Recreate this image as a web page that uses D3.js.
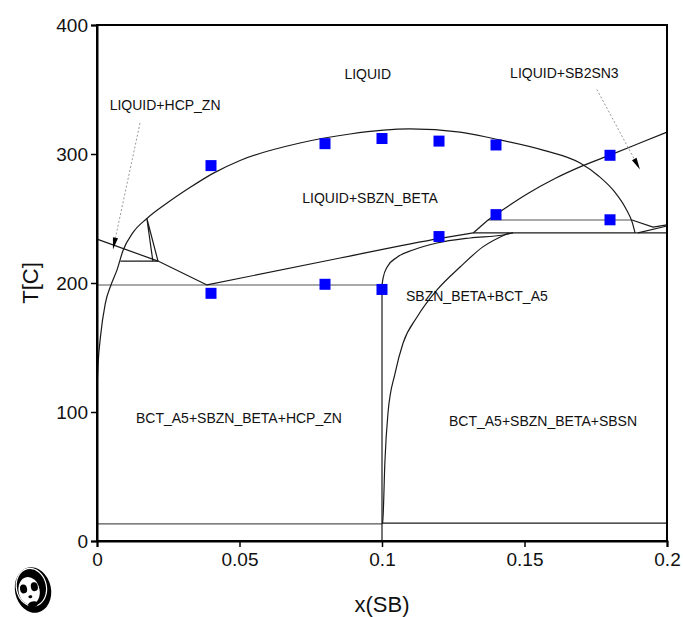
<!DOCTYPE html>
<html><head><meta charset="utf-8">
<script src="https://cdn.jsdelivr.net/npm/d3@7"></script>
<style>body{margin:0;background:#fff}svg{display:block}text{font-family:"Liberation Sans",Arial,sans-serif}</style>
</head><body>
<script>
// ---------- data ----------
const xTicks = [0, 0.05, 0.1, 0.15, 0.2];
const xTickLabels = ["0", "0.05", "0.1", "0.15", "0.2"];
const yTicks = [0, 100, 200, 300, 400];
const yTickLabels = ["0", "100", "200", "300", "400"];

// experimental points
const expX = [0.04, 0.08, 0.10, 0.12, 0.14, 0.18, 0.14, 0.18, 0.12, 0.04, 0.08, 0.10];
const expT = [291, 308, 312, 310, 307, 299, 253, 249, 236, 192, 199, 195];

// calculated phase boundaries
const domeX = [0, 0.0004, 0.0012, 0.0029, 0.0049, 0.007, 0.0091, 0.0126, 0.0175, 0.0246, 0.0326, 0.0407, 0.0502, 0.0712, 0.0888, 0.1098, 0.1274, 0.139, 0.1565, 0.1695, 0.176, 0.1815, 0.1855, 0.1878, 0.1888];
const domeT = [119, 138, 158, 184, 198.5, 210, 225, 239, 250, 262, 274, 285, 295, 308.5, 315.5, 319.4, 317, 312, 303, 293, 283, 271, 258, 247, 238.8];
const hcpLiqX = [0, 0.0214, 0.0386];
const hcpLiqT = [234, 217, 198.5];
const triX = [0.0196, 0.0175, 0.0214];
const triT = [217, 250, 217];
const triBaseX = [0.0082, 0.0214];
const triBaseT = [217, 217];
const lowX = [0.0386, 0.0853, 0.1204, 0.132];
const lowT = [198.5, 219.4, 234.6, 238.8];
const eutX = [0, 0.1];
const eutT = [198.5, 198.5];
const vertX = [0.1, 0.1];
const vertT = [198.5, 0];
const cX = [0.1, 0.1004, 0.1018, 0.1053, 0.1109, 0.1193, 0.1309, 0.1425, 0.146];
const cT = [198.5, 204, 212.4, 220, 225.6, 231, 234.9, 237.2, 238.8];
const dX = [0.1002, 0.1004, 0.101, 0.1021, 0.1046, 0.1074, 0.1123, 0.1193, 0.1274, 0.1354, 0.1445];
const dT = [13.5, 20, 60.5, 99.2, 130.2, 153.5, 173.6, 194.6, 212.4, 228, 238.8];
const h239X = [0.132, 0.2];
const h239T = [238.8, 238.8];
const diagX = [0.132, 0.1372];
const diagT = [238.8, 248.8];
const h249X = [0.1372, 0.1877];
const h249T = [248.8, 248.8];
const sb2X = [0.1372, 0.1432, 0.1509, 0.1607, 0.1695, 0.1804, 0.1905, 0.2];
const sb2T = [248.8, 258, 269, 281, 290, 299.5, 308.5, 317];
const rA_X = [0.1877, 0.1951, 0.2];
const rA_T = [248.8, 243.4, 245];
const rB_X = [0.1898, 0.2];
const rB_T = [238.8, 244.2];
const botLX = [0, 0.1];
const botLT = [13.2, 13.2];
const botRX = [0.1, 0.2];
const botRT = [13.9, 13.9];

// region labels
const labelText = ["LIQUID", "LIQUID+HCP_ZN", "LIQUID+SB2SN3", "LIQUID+SBZN_BETA", "SBZN_BETA+BCT_A5", "BCT_A5+SBZN_BETA+HCP_ZN", "BCT_A5+SBZN_BETA+SBSN"];
const labelX = [0.095, 0.0239, 0.164, 0.0958, 0.1333, 0.0498, 0.1565];
const labelT = [362, 338, 363, 266, 190, 95, 93];

// leader arrows
const arrowsFrom = [[0.0151, 324], [0.1754, 350]];
const arrowsTo = [[0.0056, 226], [0.1905, 288]];

// ---------- drawing ----------
const W = 683, H = 617;
const svg = d3.select("body").append("svg").attr("width", W).attr("height", H);
const x = d3.scaleLinear().domain([0, 0.2]).range([97, 667]);
const y = d3.scaleLinear().domain([0, 400]).range([541, 25]);

const pts = (xs, ts) => xs.map((v, i) => [v, ts[i]]);
const lineS = d3.line().x(d => x(d[0])).y(d => y(d[1])).curve(d3.curveMonotoneX);
const lineL = d3.line().x(d => x(d[0])).y(d => y(d[1]));

const g = svg.append("g");
function path(xs, ts, smooth, color, w) {
  g.append("path").attr("d", (smooth ? lineS : lineL)(pts(xs, ts)))
    .attr("fill", "none").attr("stroke", color).attr("stroke-width", w);
}
const dark = "#1a1a1a", grey = "#8c8c8c";
path(eutX, eutT, false, grey, 1.6);
path(h249X, h249T, false, grey, 1.6);
path(botLX, botLT, false, "#555", 1.3);
path(botRX, botRT, false, dark, 1.2);
path(domeX, domeT, true, dark, 1.2);
path(hcpLiqX, hcpLiqT, false, dark, 1.2);
path(triX, triT, false, dark, 1.2);
path(triBaseX, triBaseT, false, dark, 1.2);
path(lowX, lowT, true, dark, 1.2);
path(vertX, vertT, false, dark, 1.2);
path(cX, cT, true, dark, 1.2);
path(dX, dT, true, dark, 1.2);
path(h239X, h239T, false, dark, 1.2);
path(diagX, diagT, false, dark, 1.2);
path(sb2X, sb2T, true, dark, 1.2);
path(rA_X, rA_T, false, dark, 1.2);
path(rB_X, rB_T, false, dark, 1.2);

// arrows
arrowsFrom.forEach((a, i) => {
  const b = arrowsTo[i];
  const x0 = x(a[0]), y0 = y(a[1]), x1 = x(b[0]), y1 = y(b[1]);
  const dx = x1 - x0, dy = y1 - y0, L = Math.hypot(dx, dy), ux = dx / L, uy = dy / L;
  const hl = 12, hw = 2.6;
  const bx = x1 - ux * hl, by = y1 - uy * hl;
  g.append("line").attr("x1", x0).attr("y1", y0).attr("x2", bx).attr("y2", by)
    .attr("stroke", "#999").attr("stroke-width", 1).attr("stroke-dasharray", "2,2");
  g.append("path").attr("d", `M${x1},${y1}L${bx - uy * hw},${by + ux * hw}L${bx + uy * hw},${by - ux * hw}Z`)
    .attr("fill", "#000");
});

// squares
const sq = 11;
g.selectAll("rect.exp").data(pts(expX, expT)).enter().append("rect")
  .attr("x", d => x(d[0]) - sq / 2).attr("y", d => y(d[1]) - sq / 2)
  .attr("width", sq).attr("height", sq).attr("fill", "#0000ff");

// labels
g.selectAll("text.lab").data(labelText).enter().append("text")
  .attr("x", (d, i) => x(labelX[i])).attr("y", (d, i) => y(labelT[i]))
  .attr("text-anchor", "middle").attr("dominant-baseline", "central")
  .attr("font-size", 14).attr("fill", "#111").text(d => d);

// frame
svg.append("rect").attr("x", 97).attr("y", 25).attr("width", 570).attr("height", 516)
  .attr("fill", "none").attr("stroke", "#000").attr("stroke-width", 2);

// axes
const ax = svg.append("g").attr("transform", "translate(0,541)")
  .call(d3.axisBottom(x).tickValues(xTicks).tickFormat((d, i) => xTickLabels[i]).tickSize(6).tickPadding(6));
const ay = svg.append("g").attr("transform", "translate(97,0)")
  .call(d3.axisLeft(y).tickValues(yTicks).tickFormat((d, i) => yTickLabels[i]).tickSize(6).tickPadding(3));
[ax, ay].forEach(a => {
  a.select(".domain").attr("stroke-width", 2);
  a.selectAll(".tick line").attr("stroke-width", 1.5);
  a.selectAll(".tick text").attr("font-size", 19).attr("fill", "#111").attr("font-family", "Liberation Sans, Arial, sans-serif");
});

svg.append("text").attr("x", 382).attr("y", 612).attr("text-anchor", "middle")
  .attr("font-size", 22).attr("fill", "#111").text("x(SB)");
svg.append("text").attr("transform", "translate(38,283) rotate(-90)").attr("text-anchor", "middle")
  .attr("font-size", 22).attr("fill", "#111").text("T[C]");

// panda logo
const lg = svg.append("g").attr("transform", "translate(33,590) rotate(-12)");
lg.append("ellipse").attr("rx", 18).attr("ry", 23).attr("fill", "#000");
lg.append("ellipse").attr("cx", -1).attr("cy", -3).attr("rx", 15).attr("ry", 19).attr("fill", "none").attr("stroke", "#fff").attr("stroke-width", 1.2);
lg.append("ellipse").attr("cx", -4).attr("cy", 0).attr("rx", 10.5).attr("ry", 14).attr("fill", "#fff");
lg.append("ellipse").attr("cx", -9).attr("cy", -3).attr("rx", 3.5).attr("ry", 4.5).attr("fill", "#000");
lg.append("ellipse").attr("cx", 2).attr("cy", -3).attr("rx", 3.5).attr("ry", 4.5).attr("fill", "#000");
lg.append("ellipse").attr("cx", -4).attr("cy", 6).attr("rx", 2).attr("ry", 1.5).attr("fill", "#000");
lg.append("ellipse").attr("cx", -3).attr("cy", 14).attr("rx", 5).attr("ry", 3).attr("fill", "#000");
</script>
</body></html>
